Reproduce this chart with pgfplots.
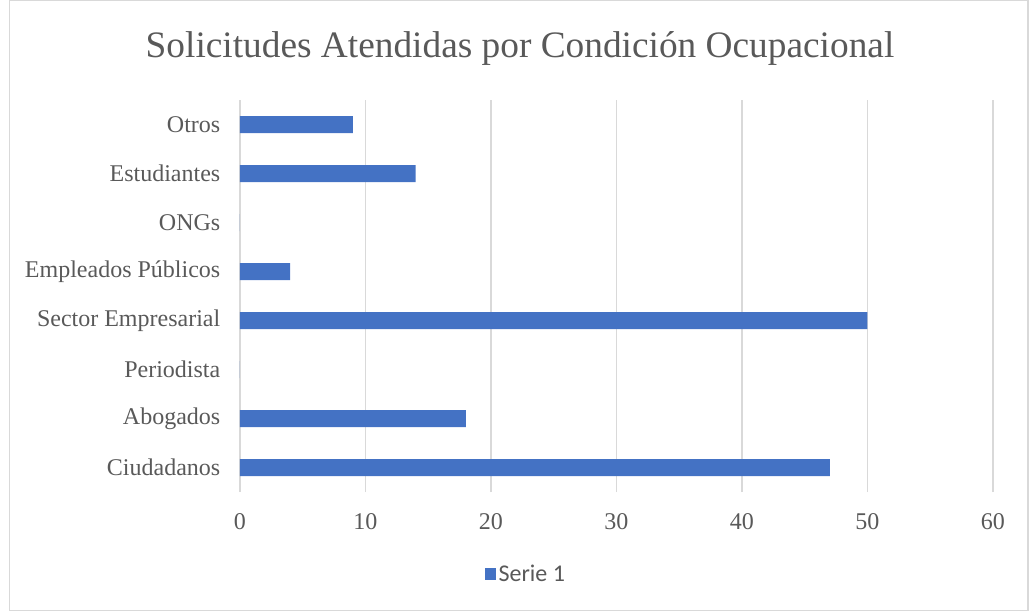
\documentclass[border=0pt]{standalone}
\usepackage{pgfplots}
\pgfplotsset{compat=1.18}
\usepackage{fontspec}
\setmainfont{Liberation Serif}
\newfontfamily\legfont{Carlito}
\definecolor{barblue}{HTML}{4472C4}
\definecolor{txtgray}{HTML}{595959}
\definecolor{gridgray}{HTML}{D9D9D9}

\begin{document}
\begin{tikzpicture}
\useasboundingbox (0,0) rectangle (771.75pt,458.25pt);
\draw[gridgray, line width=0.8pt] (7pt,0.6pt) rectangle (771pt,457.6pt);
\node[txtgray, font=\fontsize{28}{32}\selectfont] at (390pt,422pt) {Solicitudes Atendidas por Condición Ocupacional};
\begin{axis}[
    at={(180pt,89.25pt)}, anchor=south west,
    scale only axis, width=564.75pt, height=294pt,
    xbar, bar width=12.75pt,
    xmin=0, xmax=60, ymin=-0.5, ymax=7.5,
    xtick={0,10,...,60},
    ytick={0,...,7},
    yticklabels={Ciudadanos,Abogados,Periodista,Sector Empresarial,Empleados Públicos,ONGs,Estudiantes,Otros},
    xmajorgrids, grid style={gridgray, line width=1.1pt},
    axis line style={draw=none},
    major tick style={draw=none},
    tick label style={txtgray, font=\fontsize{18}{20}\selectfont},
    xticklabel style={yshift=-12.5pt},
    yticklabel style={xshift=-7pt},
    /pgf/number format/assume math mode=true,
    legend style={at={(0.38,-0.209)}, anchor=center, draw=none,
        font=\legfont\fontsize{18}{20}\selectfont, text=txtgray},
    legend image code/.code={\fill[barblue] (0pt,-4.5pt) rectangle (8.5pt,4.5pt);},
]
\addplot[fill=barblue, draw=none] coordinates {
  (47,0) (18,1) (0,2) (50,3) (4,4) (0,5) (14,6) (9,7)};
\addlegendentry{Serie 1}
\end{axis}
\end{tikzpicture}
\end{document}
